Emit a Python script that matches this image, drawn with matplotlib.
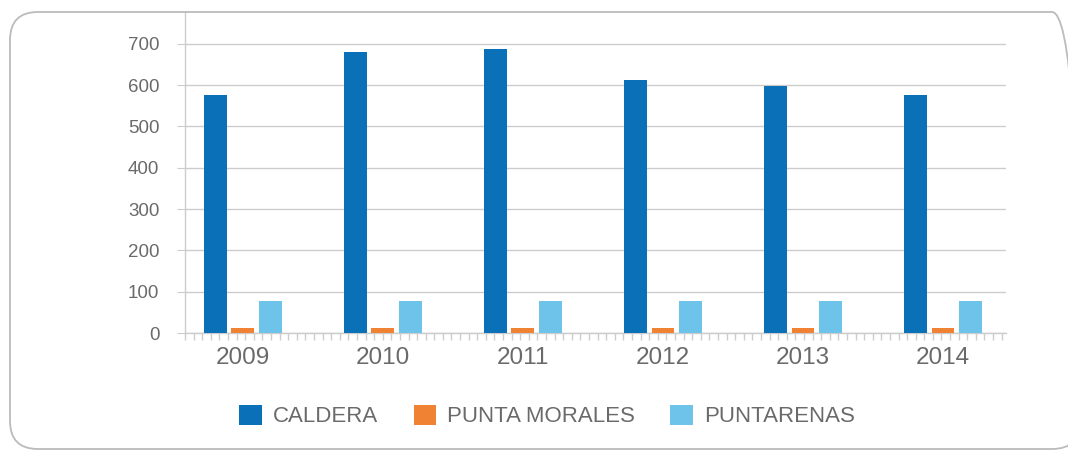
import numpy as np
import matplotlib
matplotlib.use("Agg")
import matplotlib.pyplot as plt
from matplotlib.patches import FancyBboxPatch, Patch
from matplotlib.transforms import IdentityTransform

years = ["2009", "2010", "2011", "2012", "2013", "2014"]
caldera = [576, 681, 688, 613, 598, 576]
punta_morales = [13, 13, 13, 13, 13, 13]
puntarenas = [77, 77, 77, 77, 77, 77]
series_names = ["CALDERA", "PUNTA MORALES", "PUNTARENAS"]
colors = ["#0A70B8", "#F08333", "#6EC3EA"]

plt.rcParams["font.family"] = ["Liberation Sans", "DejaVu Sans"]
grey_txt = "#6a6a6a"
grey_line = "#cccccc"

fig = plt.figure(figsize=(10.68, 4.5), dpi=100)

# rounded frame around the chart (pixel coords), runs off the right/bottom edge
frame = FancyBboxPatch((10, 1), 1070, 437, boxstyle="round,pad=0,rounding_size=28",
                       transform=IdentityTransform(), fill=False,
                       edgecolor="#bbbbbb", linewidth=1.3)
fig.patches.append(frame)

ax = fig.add_axes([185 / 1068, 1 - 333 / 450, (1006 - 185) / 1068, (333 - 12) / 450])

x = np.arange(len(years))
w = 0.164
off = 0.196
for i, (vals, c) in enumerate(zip([caldera, punta_morales, puntarenas], colors)):
    ax.bar(x + (i - 1) * off, vals, width=w, color=c, zorder=3)

ax.set_xlim(-0.414, 5.45)
ax.set_ylim(0, 777)
ax.set_yticks(range(0, 701, 100))
ax.set_xticks(x)
ax.set_xticklabels(years)
ax.set_xticks(np.arange(-0.414, 5.45, 0.0614), minor=True)

ax.yaxis.grid(True, color=grey_line, linewidth=1, zorder=0)
for s in ["top", "right"]:
    ax.spines[s].set_visible(False)
for s in ["left", "bottom"]:
    ax.spines[s].set_color(grey_line)
    ax.spines[s].set_linewidth(1)

ax.tick_params(axis="y", length=6, color=grey_line, labelsize=13.5,
               labelcolor=grey_txt, pad=12.5)
ax.tick_params(axis="x", which="major", length=0, labelsize=17.5,
               labelcolor=grey_txt, pad=10)
ax.tick_params(axis="x", which="minor", length=5, color=grey_line, width=1)

handles = [Patch(facecolor=c, edgecolor="none") for c in colors]
leg = fig.legend(handles, series_names, loc="center", ncol=3,
                 bbox_to_anchor=(547 / 1068, 1 - 416 / 450), frameon=False,
                 fontsize=16, handlelength=1.0, handleheight=1.05,
                 handletextpad=0.5, columnspacing=1.6)
for t in leg.get_texts():
    t.set_color(grey_txt)

fig.savefig("out.png", dpi=100)
